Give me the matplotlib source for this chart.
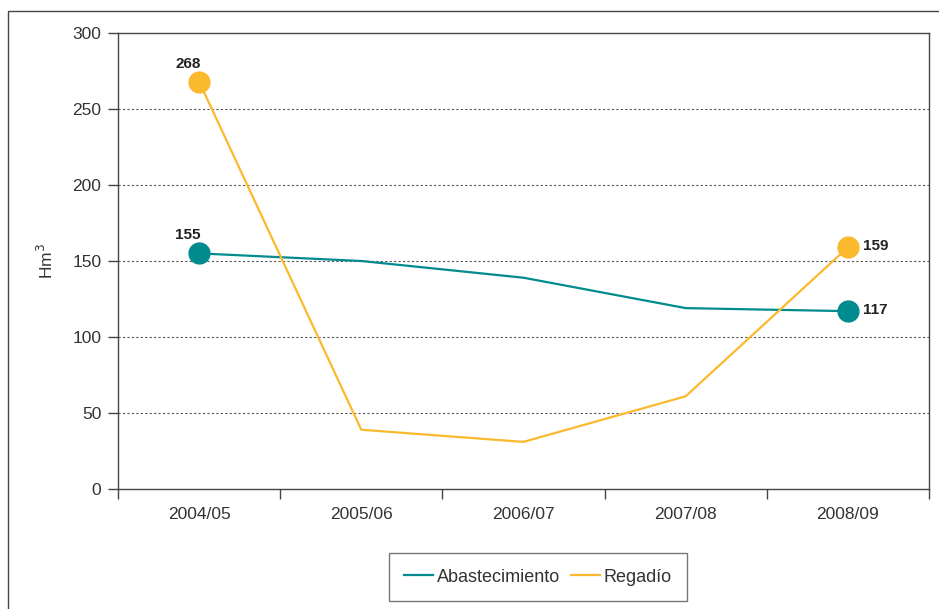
import numpy as np
import matplotlib.pyplot as plt
from matplotlib.patches import Rectangle

# Data
years = ["2004/05", "2005/06", "2006/07", "2007/08", "2008/09"]
abastecimiento = [155, 150, 139, 119, 117]
regadio = [268, 39, 31, 61, 159]

teal = "#008b8e"
orange = "#fbb92e"
grey = "#333333"

plt.rcParams['font.family'] = ['Liberation Sans', 'DejaVu Sans']

fig = plt.figure(figsize=(9.39, 6.09), dpi=100)
ax = fig.add_axes([118/939, 1 - 489/609, (929-118)/939, (489-33)/609])

# outer frame
fig.patches.append(Rectangle((8/939, -0.1), 1.2, 1 - 11/609 + 0.1, transform=fig.transFigure,
                             fill=False, edgecolor="#444444", linewidth=1.0))

x = np.arange(len(years)) + 0.5
ax.plot(x, abastecimiento, color=teal, linewidth=1.6, label="Abastecimiento", zorder=3)
ax.plot(x, regadio, color=orange, linewidth=1.6, label="Regadío", zorder=3)

# end markers and labels
for vals, col in [(abastecimiento, teal), (regadio, orange)]:
    ax.plot([x[0], x[-1]], [vals[0], vals[-1]], "o", color=col, markersize=15, zorder=4)
    ax.annotate(str(vals[0]), (x[0], vals[0]), xytext=(-8, 8), textcoords="offset points",
                ha="center", va="bottom", fontsize=11, fontweight="bold", color="#222222")
    ax.annotate(str(vals[-1]), (x[-1], vals[-1]), xytext=(11, 1), textcoords="offset points",
                ha="left", va="center", fontsize=11, fontweight="bold", color="#222222")

ax.set_xlim(0, len(years))
ax.set_ylim(0, 300)
ax.set_yticks(np.arange(0, 301, 50))
ax.set_xticks(np.arange(0, len(years) + 1))
ax.set_xticklabels([])
ax.set_xticks(x, minor=True)
ax.set_xticklabels(years, minor=True)
ax.tick_params(axis="x", which="major", length=7, width=1, color="#444444", direction="out")
ax.tick_params(axis="x", which="minor", length=0, pad=13, labelsize=12.5, labelcolor=grey)
ax.tick_params(axis="y", length=7, width=1, color="#444444", pad=5, labelsize=12.5, labelcolor=grey)

for ylev in range(50, 300, 50):
    ax.axhline(ylev, color="#555555", linestyle=(0, (2, 2)), linewidth=0.8, zorder=1)

for s in ax.spines.values():
    s.set_color("#444444")
    s.set_linewidth(1.0)

ax.set_ylabel("Hm$^3$", fontsize=12.5, color=grey, labelpad=12)

leg = fig.legend(loc="center", bbox_to_anchor=(538/939, 1 - 577/609), ncol=2, frameon=True,
                 fancybox=False, edgecolor="#555555", fontsize=13, handlelength=1.6,
                 columnspacing=0.6, handletextpad=0.2, borderpad=0.85, borderaxespad=0)
leg.get_frame().set_linewidth(1.0)
for t in leg.get_texts():
    t.set_color(grey)

fig.savefig("out.png", dpi=100)
